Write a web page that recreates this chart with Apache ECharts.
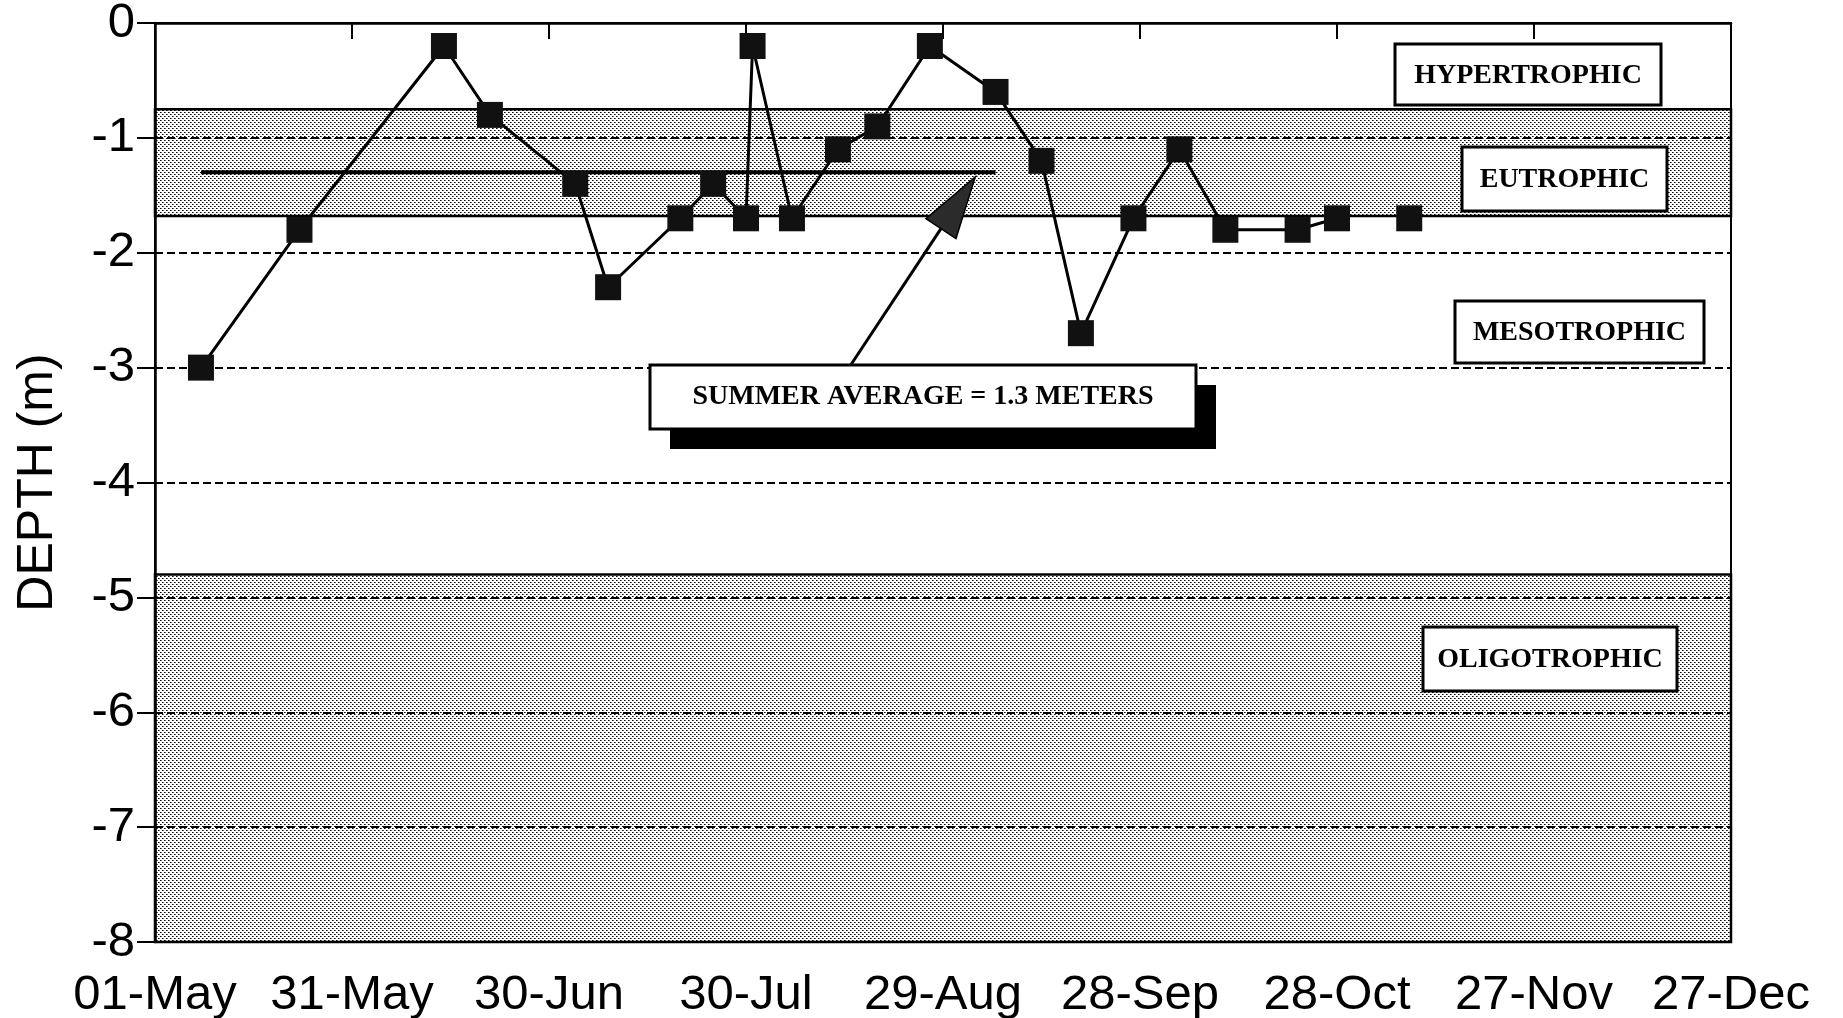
<!DOCTYPE html>
<html><head><meta charset="utf-8">
<script src="https://cdn.jsdelivr.net/npm/echarts@6/dist/echarts.min.js"></script>
<style>html,body{margin:0;padding:0;background:#fff}#c{width:1843px;height:1018px}</style>
</head><body><div id="c"></div>
<script>
// ---------------- DATA ----------------
const BASE_DATE = '1990-05-01';
const xTickLabels = ['01-May','31-May','30-Jun','30-Jul','29-Aug','28-Sep','28-Oct','27-Nov','27-Dec'];
const yTickLabels = ['0','-1','-2','-3','-4','-5','-6','-7','-8'];
const sampleDates = ['1990-05-08','1990-05-23','1990-06-14','1990-06-21','1990-07-04','1990-07-09',
  '1990-07-20','1990-07-25','1990-07-30','1990-07-31','1990-08-06','1990-08-13','1990-08-19',
  '1990-08-27','1990-09-06','1990-09-13','1990-09-19','1990-09-27','1990-10-04','1990-10-11',
  '1990-10-22','1990-10-28','1990-11-08'];
const depths = [-3.0,-1.8,-0.2,-0.8,-1.4,-2.3,-1.7,-1.4,-1.7,-0.2,-1.7,-1.1,-0.9,-0.2,-0.6,-1.2,
  -2.7,-1.7,-1.1,-1.8,-1.8,-1.7,-1.7];
const connectedCount = 22;               // last sample is not joined to the line
const summerAverage = -1.3;
const summerAverageFrom = '1990-05-08';
const summerAverageTo = '1990-09-06';
const zoneNames = ['HYPERTROPHIC','EUTROPHIC','MESOTROPHIC','OLIGOTROPHIC'];
const zoneTops = [0, -0.75, -1.68, -4.8];
const zoneBottoms = [-0.75, -1.68, -4.8, -8];
const zoneShaded = [false, true, false, true];
const annotationText = 'SUMMER AVERAGE = 1.3 METERS';
const arrowTail = [105.8, -2.99];        // [day offset, depth]
const arrowTip = [124.9, -1.34];

// ---------------- HELPERS ----------------
const DAY = 86400000;
const base = Date.parse(BASE_DATE + 'T00:00:00Z');
const dayOf = s => (Date.parse(s + 'T00:00:00Z') - base) / DAY;
const MONTHS = ['Jan','Feb','Mar','Apr','May','Jun','Jul','Aug','Sep','Oct','Nov','Dec'];
const labelOf = d => { const dt = new Date(base + d * DAY); return String(dt.getUTCDate()).padStart(2,'0') + '-' + MONTHS[dt.getUTCMonth()]; };
const pts = sampleDates.map((s, i) => [dayOf(s), depths[i]]);
const xMax = (xTickLabels.length - 1) * 30;

// stipple pattern
const pc = document.createElement('canvas'); pc.width = 4; pc.height = 4;
const g = pc.getContext('2d');
g.fillStyle = '#000'; g.fillRect(0,0,1,1); g.fillRect(2,2,1,1);
g.fillStyle = 'rgba(0,0,0,0.6)'; g.fillRect(1,0,1,1); g.fillRect(3,2,1,1);
const stipple = { image: pc, repeat: 'repeat' };

const SANS = '"Liberation Sans", Arial, Helvetica, sans-serif';
const SERIF = '"Liberation Serif", "Times New Roman", serif';

const chart = echarts.init(document.getElementById('c'), null, { renderer: 'canvas' });
const option = {
  animation: false,
  backgroundColor: '#fff',
  grid: { left: 155, top: 23, right: 112, bottom: 76, show: true, borderColor: '#000', borderWidth: 2, outerBoundsMode: 'none', containLabel: false },
  xAxis: {
    type: 'value', min: 0, max: xMax, interval: 30,
    axisLine: { lineStyle: { color: '#000', width: 2.5 } },
    axisTick: { inside: false, length: 16, lineStyle: { color: '#000', width: 2 } },
    axisLabel: { margin: 29, color: '#000', fontSize: 49, fontFamily: SANS, formatter: v => labelOf(v) },
    splitLine: { show: false }
  },
  yAxis: {
    type: 'value', min: -8, max: 0, interval: 1,
    name: 'DEPTH (m)', nameLocation: 'middle', nameGap: 92,
    nameTextStyle: { color: '#000', fontSize: 50, fontFamily: SANS },
    axisLine: { lineStyle: { color: '#000', width: 2.5 } },
    axisTick: { inside: false, length: 18, lineStyle: { color: '#000', width: 2 } },
    axisLabel: { margin: 20, color: '#000', fontSize: 49, fontFamily: SANS,
      formatter: v => yTickLabels[Math.round(-v)] },
    splitLine: { show: true, lineStyle: { color: '#000', width: 2, type: [8, 4] } }
  },
  series: [
    { type: 'line', name: 'zones', z: 1, data: [], silent: true,
      markArea: { silent: true,
        itemStyle: { color: stipple, borderColor: '#000', borderWidth: 2.5 },
        data: zoneNames.map((n, i) => zoneShaded[i] ? [{ xAxis: 0, yAxis: zoneTops[i] }, { xAxis: xMax, yAxis: zoneBottoms[i] }] : null).filter(Boolean)
      } },
    { type: 'line', name: 'avg', z: 3, silent: true, showSymbol: false, symbol: 'none',
      lineStyle: { color: '#000', width: 4 },
      data: [[dayOf(summerAverageFrom), summerAverage], [dayOf(summerAverageTo), summerAverage]] },
    { type: 'line', name: 'depth', z: 4, symbol: 'rect', symbolSize: 26, showAllSymbol: true,
      itemStyle: { color: '#111', opacity: 1 }, lineStyle: { color: '#000', width: 3 },
      data: pts.slice(0, connectedCount) },
    { type: 'scatter', name: 'depth2', z: 4, symbol: 'rect', symbolSize: 26,
      itemStyle: { color: '#111', opacity: 1 }, data: pts.slice(connectedCount) }
  ]
};
chart.setOption(option);

// ---------------- ANNOTATIONS ----------------
const P = p => chart.convertToPixel({ gridIndex: 0 }, p);
const t = P(arrowTail), h = P(arrowTip);
const dx = h[0] - t[0], dy = h[1] - t[1], len = Math.hypot(dx, dy);
const ux = dx / len, uy = dy / len, nx = -uy, ny = ux;
const headLen = 62, headHalf = 18;
const bx = h[0] - ux * headLen, by = h[1] - uy * headLen;

const boxLayout = [
  { x: 1395, y: 44, w: 266, h: 61 },
  { x: 1462, y: 147, w: 205, h: 64 },
  { x: 1455, y: 301, w: 249, h: 62 },
  { x: 1423, y: 627, w: 254, h: 64 }
];
const avgBox = { x: 650, y: 365, w: 546, h: 64, sh: 20 };
const FONT_BOX = 'bold 28px ' + SERIF;
const elems = [];
elems.push({ type: 'line', z: 100, shape: { x1: t[0], y1: t[1], x2: bx, y2: by }, style: { stroke: '#000', lineWidth: 3 } });
elems.push({ type: 'polygon', z: 100, shape: { points: [[h[0], h[1]], [bx + nx * headHalf, by + ny * headHalf], [bx - nx * headHalf, by - ny * headHalf]] }, style: { fill: '#2b2b2b', stroke: '#000', lineWidth: 1.5 } });
elems.push({ type: 'rect', z: 100, shape: { x: avgBox.x + avgBox.sh, y: avgBox.y + avgBox.sh, width: avgBox.w, height: avgBox.h }, style: { fill: '#000' } });
elems.push({ type: 'rect', z: 101, shape: { x: avgBox.x, y: avgBox.y, width: avgBox.w, height: avgBox.h }, style: { fill: '#fff', stroke: '#000', lineWidth: 3 } });
elems.push({ type: 'text', z: 102, style: { text: annotationText, x: avgBox.x + avgBox.w / 2, y: avgBox.y + avgBox.h / 2, align: 'center', verticalAlign: 'middle', textAlign: 'center', textVerticalAlign: 'middle', font: FONT_BOX, fill: '#000' } });
zoneNames.forEach((n, i) => {
  const b = boxLayout[i];
  elems.push({ type: 'rect', z: 101, shape: { x: b.x, y: b.y, width: b.w, height: b.h }, style: { fill: '#fff', stroke: '#000', lineWidth: 3 } });
  elems.push({ type: 'text', z: 102, style: { text: n, x: b.x + b.w / 2, y: b.y + b.h / 2 + 1, align: 'center', verticalAlign: 'middle', textAlign: 'center', textVerticalAlign: 'middle', font: FONT_BOX, fill: '#000' } });
});
chart.setOption({ graphic: { elements: elems } });
</script>
</body></html>
